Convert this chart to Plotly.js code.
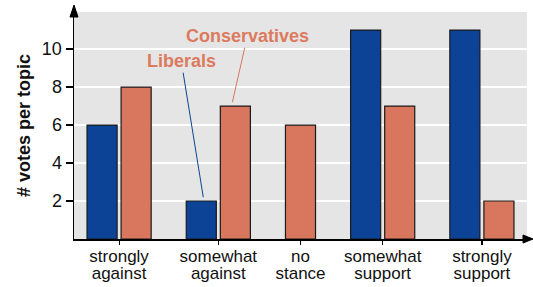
<!DOCTYPE html>
<html>
<head>
<meta charset="utf-8">
<script src="https://cdn.plot.ly/plotly-3.0.1.min.js"></script>
<style>html,body{margin:0;padding:0;background:#fff;}#chart{width:533px;height:287px;}</style>
</head>
<body>
<div id="chart"></div>
<script>
// ---- data ----
const categories = ['strongly against', 'somewhat against', 'no stance', 'somewhat support', 'strongly support'];
const liberals = [6, 2, null, 11, 11];
const conservatives = [8, 7, 6, 7, 2];
const yTicks = [2, 4, 6, 8, 10];

// ---- styles / layout constants ----
const BLUE = '#0c4396';
const ORANGE = '#d8775d';
const LABEL_ORANGE = '#dc7a5e';
const FONT = '"Liberation Sans", Arial, Helvetica, sans-serif';
const barW = 30, innerGap = 4, groupGap = 35, pad = 13;

// two-line category labels (tight line spacing: one axis per line)
const line1 = categories.map(c => c.slice(0, c.indexOf(' ')));
const line2 = categories.map(c => c.slice(c.indexOf(' ') + 1));

// compute bar positions: groups only reserve room for bars that exist
const series = [liberals, conservatives];
const posLib = [], posCon = [], centers = [];
let cursor = pad;
categories.forEach((c, i) => {
  const present = series.map(s => s[i] !== null);
  const n = present.filter(Boolean).length;
  const gw = n * barW + (n - 1) * innerGap;
  let k = 0;
  const out = [posLib, posCon];
  series.forEach((s, j) => {
    if (present[j]) { out[j].push(cursor + k * (barW + innerGap) + barW / 2); k++; }
    else out[j].push(null);
  });
  centers.push(cursor + gw / 2);
  cursor += gw + groupGap;
});
const xMax = cursor - groupGap + pad;

const M = {l: 74, r: 6, t: 12, b: 48};
const W = 533, H = 287;
const pw = W - M.l - M.r, ph = H - M.t - M.b;
const px = v => v / pw, py = v => v / ph;

const traces = [
  {type: 'bar', name: 'Liberals', x: posLib, y: liberals, width: barW,
   marker: {color: BLUE, line: {color: '#1a1a1a', width: 1.2}}, hoverinfo: 'skip'},
  {type: 'bar', name: 'Conservatives', x: posCon, y: conservatives, width: barW,
   marker: {color: ORANGE, line: {color: '#1a1a1a', width: 1.2}}, hoverinfo: 'skip'},
  // invisible carrier for the second label axis
  {type: 'scatter', x: [centers[0]], y: [0], xaxis: 'x2', yaxis: 'y', mode: 'none', hoverinfo: 'skip'}
];

const tickFont = {size: 17, family: FONT, color: '#111'};

const layout = {
  width: W, height: H,
  margin: M,
  paper_bgcolor: '#ffffff',
  plot_bgcolor: '#e5e5e5',
  showlegend: false,
  barmode: 'overlay',
  font: {family: FONT, color: '#111', size: 18},
  xaxis: {
    type: 'linear', range: [0, xMax], fixedrange: true,
    tickvals: centers, ticktext: line1,
    ticks: 'outside', ticklen: 4, tickwidth: 1.2, tickcolor: '#000',
    showline: true, linecolor: '#000', linewidth: 1.5,
    showgrid: false, zeroline: false,
    ticklabelstandoff: -3,
    tickfont: tickFont
  },
  xaxis2: {
    type: 'linear', range: [0, xMax], fixedrange: true,
    overlaying: 'x', anchor: 'y', side: 'bottom',
    tickvals: centers, ticktext: line2,
    ticks: '', showline: false, showgrid: false, zeroline: false,
    ticklabelstandoff: 22,
    tickfont: tickFont
  },
  yaxis: {
    range: [0, 11.95], fixedrange: true,
    tickvals: yTicks, ticktext: yTicks.map(String),
    ticks: 'outside', ticklen: 7, tickwidth: 1.2, tickcolor: '#000',
    showline: true, linecolor: '#000', linewidth: 1.5,
    showgrid: true, gridcolor: '#ffffff', gridwidth: 1.5,
    zeroline: false,
    tickfont: {size: 18, family: FONT, color: '#111'},
    title: {text: '# votes per topic', font: {size: 18, family: FONT, weight: 'bold', color: '#111'}, standoff: 6}
  },
  annotations: [
    {x: posLib[1] + 2, y: liberals[1] + 0.2, xref: 'x', yref: 'y',
     text: '<b>Liberals</b>', showarrow: true, arrowhead: 0, arrowwidth: 1,
     arrowcolor: BLUE, ax: -22, ay: -136, axref: 'pixel', ayref: 'pixel',
     font: {size: 18, family: FONT, color: LABEL_ORANGE}},
    {x: posCon[1] - 3, y: conservatives[1] + 0.2, xref: 'x', yref: 'y',
     text: '<b>Conservatives</b>', showarrow: true, arrowhead: 0, arrowwidth: 1,
     arrowcolor: ORANGE, ax: 15, ay: -66, axref: 'pixel', ayref: 'pixel',
     font: {size: 18, family: FONT, color: LABEL_ORANGE}}
  ],
  shapes: [
    // y-axis arrowhead
    {type: 'path', xref: 'paper', yref: 'paper', layer: 'above',
     path: `M ${-px(4)},${1 + py(-5)} L 0,${1 + py(7)} L ${px(4)},${1 + py(-5)} Z`,
     fillcolor: '#000', line: {color: '#000', width: 1}},
    // x-axis arrowhead
    {type: 'path', xref: 'paper', yref: 'paper', layer: 'above',
     path: `M ${1 + px(-4)},${py(4)} L ${1 + px(6)},0 L ${1 + px(-4)},${-py(4)} Z`,
     fillcolor: '#000', line: {color: '#000', width: 1}}
  ]
};

Plotly.newPlot('chart', traces, layout, {displayModeBar: false, staticPlot: true});
</script>
</body>
</html>
